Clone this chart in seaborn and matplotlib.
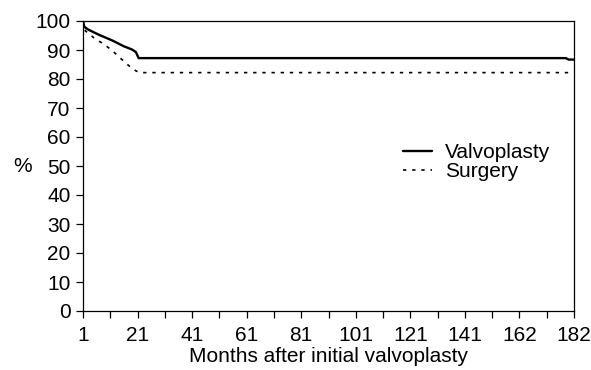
import numpy as np
import pandas as pd
import matplotlib
matplotlib.use("Agg")
import matplotlib.pyplot as plt
import seaborn as sns

# values (months, percent)
valvo_months = [1, 1.5, 3, 7, 12, 16, 19, 20.5, 21.5, 179, 180, 182]
valvo_pct = [100, 98, 97, 95.2, 93.2, 91.3, 90.2, 89.3, 87.2, 87.2, 86.7, 86.7]

surg_months = [1, 1.3, 2, 5, 9, 12, 15, 18, 20.5, 22, 182]
surg_pct = [100, 97.5, 96.5, 94.2, 91.8, 89.6, 87, 84.5, 82.8, 82.2, 82.2]

x_tick_labels = ["1", "21", "41", "61", "81", "101", "121", "141", "162", "182"]
y_ticks = list(range(0, 101, 10))

df = pd.concat([
    pd.DataFrame({"month": valvo_months, "pct": valvo_pct, "group": "Valvoplasty"}),
    pd.DataFrame({"month": surg_months, "pct": surg_pct, "group": "Surgery"}),
])

sns.set_style("ticks")
plt.rcParams["font.family"] = ["Liberation Sans", "DejaVu Sans"]
plt.rcParams["text.color"] = "black"

fig = plt.figure(figsize=(5.91, 3.70), dpi=100)
ax = fig.add_axes([83 / 591, 59 / 370, 491 / 591, 290 / 370])

sns.lineplot(data=df[df.group == "Valvoplasty"], x="month", y="pct", color="black",
             linewidth=1.7, ax=ax, label="Valvoplasty", estimator=None, sort=False)
sns.lineplot(data=df[df.group == "Surgery"], x="month", y="pct", color="black",
             linewidth=1.2, linestyle=(0, (2, 3.5)), ax=ax, label="Surgery",
             estimator=None, sort=False)

ax.set_xlim(1, 182)
ax.set_ylim(0, 100)
major = np.linspace(1, 182, len(x_tick_labels))
ax.set_xticks(major)
ax.set_xticklabels(x_tick_labels)
ax.set_xticks((major[:-1] + major[1:]) / 2, minor=True)
ax.set_yticks(y_ticks)

ax.tick_params(axis="both", which="both", direction="out", length=5, width=0.9,
               color="black", labelsize=15, labelcolor="black")
ax.tick_params(axis="y", pad=4)
ax.tick_params(axis="x", pad=6)

for s in ax.spines.values():
    s.set_visible(True)
    s.set_color("black")
    s.set_linewidth(0.9)

ax.set_xlabel("Months after initial valvoplasty", fontsize=15, color="black", labelpad=1)
ax.set_ylabel("%", fontsize=15, color="black", rotation=0, labelpad=9, va="center")

leg = ax.legend(loc="center left", bbox_to_anchor=(403 / 591, 1 - 162 / 370),
                bbox_transform=fig.transFigure, frameon=False, fontsize=15,
                handlelength=1.4, handletextpad=0.6, labelspacing=0.0,
                borderpad=0, borderaxespad=0, labelcolor="black")

fig.savefig("out.png", dpi=100)
